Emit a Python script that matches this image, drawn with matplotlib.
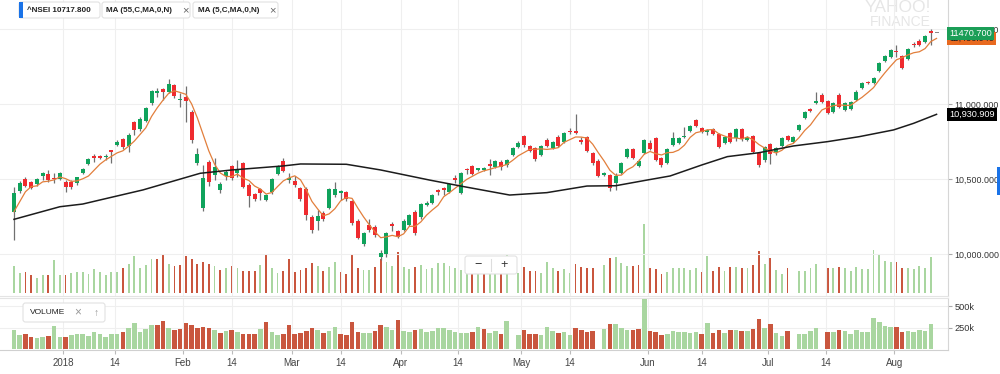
import numpy as np
import pandas as pd
import matplotlib
matplotlib.use("Agg")
import matplotlib.pyplot as plt
from matplotlib.patches import FancyBboxPatch, Rectangle
from matplotlib.transforms import blended_transform_factory

# ^NSEI daily candles (index 0 = first candle on the left)
opens = [
    10282, 10422, 10500, 10478, 10464, 10520, 10533, 10505, 10502, 10482,
    10482, 10475, 10538, 10598, 10649, 10653, 10647, 10691, 10727, 10767,
    10720, 10880, 10831, 10889, 11005, 11071, 11098, 11082, 11127, 11027,
    11049, 10949, 10604, 10305, 10611, 10527, 10427, 10522, 10587, 10538,
    10605, 10460, 10398, 10431, 10360, 10411, 10533, 10622, 10493, 10489,
    10438, 10433, 10245, 10222, 10275, 10309, 10393, 10405, 10411, 10353,
    10222, 10065, 10193, 10182, 9982, 10000, 10200, 10153, 10160, 10193,
    10282, 10245, 10327, 10338, 10427, 10438, 10415, 10509, 10409, 10567,
    10587, 10560, 10558, 10598, 10582, 10615, 10593, 10660, 10711, 10787,
    10720, 10705, 10660, 10760, 10705, 10782, 10749, 10820, 10820, 10760,
    10778, 10675, 10622, 10527, 10527, 10471, 10538, 10649, 10698, 10587,
    10675, 10742, 10771, 10638, 10609, 10727, 10742, 10778, 10820, 10893,
    10838, 10815, 10831, 10798, 10742, 10809, 10771, 10831, 10760, 10787,
    10671, 10627, 10731, 10682, 10720, 10787, 10749, 10827, 10905, 10965,
    11009, 11060, 11020, 10949, 11060, 10960, 10965, 11027, 11105, 11149,
    11138, 11222, 11289, 11311, 11356, 11320, 11298, 11400, 11422, 11415,
    11489, 11470.7,
]
highs = [
    10449, 10485, 10510, 10487, 10505, 10549, 10560, 10540, 10545, 10493,
    10490, 10515, 10575, 10638, 10667, 10660, 10667, 10693, 10760, 10775,
    10805, 10889, 10912, 10980, 11095, 11105, 11107, 11167, 11135, 11073,
    11120, 10960, 10705, 10593, 10627, 10638, 10482, 10560, 10595, 10627,
    10615, 10471, 10407, 10438, 10400, 10505, 10595, 10640, 10538, 10520,
    10445, 10449, 10260, 10293, 10285, 10440, 10482, 10427, 10420, 10360,
    10230, 10145, 10231, 10190, 10027, 10149, 10215, 10160, 10230, 10268,
    10293, 10340, 10355, 10400, 10433, 10445, 10475, 10527, 10545, 10573,
    10595, 10575, 10578, 10633, 10625, 10625, 10635, 10713, 10750, 10795,
    10727, 10713, 10727, 10775, 10755, 10790, 10815, 10838, 10933, 10780,
    10787, 10683, 10630, 10545, 10535, 10540, 10615, 10707, 10707, 10630,
    10767, 10760, 10778, 10645, 10705, 10815, 10782, 10849, 10860, 10900,
    10845, 10833, 10838, 10805, 10785, 10815, 10840, 10840, 10785, 10795,
    10680, 10722, 10738, 10715, 10780, 10795, 10785, 10867, 10955, 10975,
    11082, 11073, 11027, 11015, 11073, 11012, 11022, 11090, 11145, 11155,
    11178, 11282, 11327, 11367, 11393, 11327, 11372, 11410, 11430, 11460,
    11500, 11470.7,
]
lows = [
    10093, 10407, 10445, 10430, 10455, 10493, 10482, 10473, 10495, 10413,
    10430, 10460, 10533, 10593, 10615, 10630, 10627, 10605, 10720, 10700,
    10682, 10793, 10820, 10880, 10995, 11049, 11027, 11073, 11040, 10982,
    10882, 10738, 10593, 10289, 10453, 10493, 10409, 10493, 10495, 10515,
    10438, 10315, 10352, 10360, 10350, 10400, 10525, 10547, 10473, 10449,
    10355, 10227, 10140, 10160, 10220, 10300, 10382, 10360, 10355, 10195,
    10098, 10055, 10149, 10115, 9960, 9982, 10155, 10105, 10150, 10185,
    10127, 10235, 10320, 10330, 10395, 10390, 10405, 10475, 10400, 10530,
    10525, 10550, 10550, 10527, 10575, 10560, 10580, 10653, 10705, 10715,
    10680, 10620, 10653, 10715, 10700, 10715, 10740, 10800, 10800, 10735,
    10680, 10595, 10510, 10520, 10420, 10427, 10530, 10640, 10630, 10580,
    10667, 10690, 10618, 10580, 10600, 10720, 10735, 10770, 10813, 10845,
    10805, 10790, 10790, 10705, 10735, 10740, 10755, 10755, 10750, 10675,
    10580, 10610, 10600, 10660, 10710, 10750, 10740, 10820, 10900, 10945,
    11000, 11007, 10935, 10940, 10975, 10950, 10958, 11020, 11098, 11132,
    11130, 11215, 11282, 11305, 11315, 11235, 11290, 11380, 11385, 11405,
    11393, 11470.7,
]
closes = [
    10405, 10471, 10453, 10442, 10500, 10538, 10493, 10498, 10538, 10445,
    10445, 10511, 10567, 10631, 10642, 10642, 10655, 10682, 10749, 10711,
    10795, 10825, 10902, 10971, 11089, 11085, 11078, 11133, 11053, 11035,
    11022, 10760, 10667, 10505, 10482, 10582, 10465, 10549, 10505, 10558,
    10449, 10387, 10365, 10405, 10393, 10498, 10587, 10553, 10505, 10462,
    10365, 10260, 10160, 10253, 10233, 10431, 10431, 10422, 10365, 10205,
    10109, 10138, 10160, 10127, 10009, 10138, 10187, 10115, 10222, 10260,
    10138, 10333, 10342, 10393, 10415, 10427, 10467, 10493, 10538, 10560,
    10533, 10571, 10570, 10587, 10620, 10578, 10627, 10705, 10742, 10725,
    10687, 10631, 10720, 10722, 10749, 10722, 10809, 10811, 10809, 10745,
    10689, 10605, 10520, 10538, 10438, 10522, 10609, 10698, 10638, 10622,
    10760, 10698, 10627, 10593, 10698, 10771, 10775, 10789, 10853, 10853,
    10815, 10827, 10800, 10711, 10778, 10749, 10831, 10764, 10778, 10682,
    10593, 10715, 10667, 10709, 10771, 10760, 10778, 10860, 10949, 10955,
    11022, 11015, 10942, 11009, 10982, 11005, 11015, 11082, 11138, 11138,
    11171, 11275, 11320, 11360, 11347, 11242, 11365, 11393, 11393, 11453,
    11475, 11470.7,
]
# volume in thousands (0 = no value reported that day)
volume_k = [
    224, 166, 174, 147, 127, 147, 154, 274, 147, 147,
    166, 174, 174, 158, 197, 174, 147, 174, 174, 205,
    243, 305, 205, 232, 282, 282, 328, 243, 224, 235,
    305, 282, 243, 262, 243, 224, 193, 212, 224, 205,
    181, 181, 181, 232, 317, 205, 166, 181, 282, 174,
    193, 212, 251, 224, 185, 216, 262, 174, 162, 320,
    205, 193, 193, 216, 282, 255, 224, 340, 216, 197,
    220, 232, 197, 212, 247, 247, 224, 205, 193, 193,
    197, 255, 239, 185, 212, 181, 328, 0, 166, 220,
    181, 181, 166, 262, 212, 185, 197, 166, 243, 220,
    205, 212, 0, 235, 290, 297, 251, 228, 224, 232,
    579, 212, 197, 162, 178, 212, 205, 205, 193, 205,
    178, 309, 185, 220, 185, 220, 220, 212, 212, 235,
    347, 243, 290, 193, 158, 212, 0, 181, 181, 212,
    243, 0, 205, 205, 220, 212, 181, 220, 201, 197,
    359, 313, 270, 255, 262, 205, 212, 197, 224, 212,
    297, 0,
]
ma55_idx = [0, 8, 12, 15, 22.5, 32.5, 38, 47, 50, 58, 64, 72.5, 78.5, 86.5, 93,
            100, 105, 110.5, 114.5, 120, 124.5, 130, 136, 142, 147.5, 153.5, 157, 161]
ma55_val = [10231, 10315, 10333, 10360, 10427, 10538, 10560, 10587, 10600, 10598,
            10560, 10493, 10449, 10393, 10409, 10453, 10455, 10493, 10520, 10593,
            10649, 10675, 10720, 10749, 10782, 10827, 10871, 10930.909]
# 5-day MA for the first four candles (history before the window)
ma5_head = [10282, 10349, 10415, 10449]

tick_pos = [8.55, 17.6, 29.5, 38.0, 48.5, 57.1, 67.5, 77.5, 88.5, 97.0,
            110.6, 120.1, 131.6, 141.7, 153.6]
tick_labels = ["2018", "14", "Feb", "14", "Mar", "14", "Apr", "14", "May", "14",
               "Jun", "14", "Jul", "14", "Aug"]
price_ticks = [10000, 10500, 11000, 11500]
vol_ticks = [250, 500]

GREEN = "#10a35c"
RED = "#ef2b2f"
VGREEN = "#a9d6a0"
VRED = "#c9563e"
GRID = "#efefef"
TXT = "#333333"

plt.rcParams['font.family'] = ['Liberation Sans', 'DejaVu Sans']

W, H = 1000, 374


def px_rect(x0, y0, x1, y1):
    # rectangle given in pixels from the top-left corner -> figure fraction
    return [x0 / W, 1 - y1 / H, (x1 - x0) / W, (y1 - y0) / H]


o = np.array(opens, float)
h = np.array(highs, float)
l = np.array(lows, float)
c = np.array(closes, float)
v = np.array(volume_k, float)
n = len(c)
x = np.arange(n)

ma5 = pd.Series(c).rolling(5).mean().to_numpy()
ma5[:4] = ma5_head

candle_col = np.where(c > o, GREEN, np.where(c < o, RED, "#8a8a8a"))
prev_c = np.r_[o[0], c[:-1]]
vol_col = np.where(c >= prev_c, VGREEN, VRED)

xlim = (-2.44, 163.0)

fig = plt.figure(figsize=(10, 3.74), dpi=100)

# thin volume bars at the foot of the price panel
ax_ov = fig.add_axes(px_rect(0, 0, 948, 296))
ax_ov.bar(x, v, width=0.32, color=vol_col, linewidth=0)
ax_ov.set_xlim(*xlim)
ax_ov.set_ylim(-25, 2441)
ax_ov.axis('off')

# price panel
ax = fig.add_axes(px_rect(0, 0, 948, 296))
ax.patch.set_visible(False)
ax.vlines(x, l, h, color="#707070", lw=0.9, zorder=3)
body_lo = np.minimum(o, c)
body_h = np.maximum(np.abs(c - o), 8)
ax.bar(x, body_h, bottom=body_lo, width=0.7, color=candle_col, linewidth=0, zorder=4)
ax.plot(x, ma5, color="#e27f3c", lw=0.9, zorder=5)
ax.plot(ma55_idx, ma55_val, color="#1c1c1c", lw=1.1, zorder=5)
ax.set_xlim(*xlim)
ax.set_ylim(9720, 11693)
ax.yaxis.tick_right()
ax.set_yticks(price_ticks)
ax.set_yticklabels([f"{p:,.3f}" for p in price_ticks])
ax.set_xticks(tick_pos)
ax.tick_params(axis='x', length=0, labelbottom=False)
ax.tick_params(axis='y', length=3, color="#aaaaaa", labelsize=6.4, labelcolor=TXT, pad=1.5)
ax.grid(True, color=GRID, lw=0.8)
ax.set_axisbelow(True)
for s in ['top', 'left']:
    ax.spines[s].set_visible(False)
ax.spines['right'].set_color("#d6d6d6")
ax.spines['bottom'].set_color("#e4e4e4")

ax.text(0.898, 1 - 8 / H, "YAHOO!", transform=fig.transFigure, ha='center', va='center',
        fontsize=12.5, color="#e6e6e6", zorder=0)
ax.text(0.900, 1 - 22 / H, "FINANCE", transform=fig.transFigure, ha='center', va='center',
        fontsize=10, color="#e6e6e6", zorder=0)

# last-value flags on the price axis
trans = blended_transform_factory(ax.transAxes, ax.transData)
ax.text(1.0 + 1 / 948, ma5[-1], f"{ma5[-1]:,.3f}", transform=trans, ha='left', va='center',
        fontsize=6.6, color="#222222", clip_on=False, zorder=10,
        bbox=dict(boxstyle='square,pad=0.22', fc="#e8691f", ec='none'))
ax.text(1.0 + 1 / 948, c[-1], f"{c[-1]:.3f}", transform=trans, ha='left', va='center',
        fontsize=6.6, color="white", clip_on=False, zorder=11,
        bbox=dict(boxstyle='square,pad=0.22', fc="#1b9e57", ec='none'))
ax.text(1.0 + 1 / 948, ma55_val[-1], f"{ma55_val[-1]:,.3f}", transform=trans, ha='left',
        va='center', fontsize=6.6, color="white", clip_on=False, zorder=11,
        bbox=dict(boxstyle='square,pad=0.22', fc="black", ec='none'))

# volume panel
axv = fig.add_axes(px_rect(0, 298, 948, 350))
axv.bar(x, v, width=0.8, color=vol_col, linewidth=0, zorder=3)
axv.set_xlim(*xlim)
axv.set_ylim(-8, 594)
axv.yaxis.tick_right()
axv.set_yticks(vol_ticks)
axv.set_yticklabels([f"{t}k" for t in vol_ticks])
axv.set_xticks(tick_pos)
axv.set_xticklabels(tick_labels)
axv.tick_params(axis='x', length=3, color="#bbbbbb", labelsize=7, labelcolor="#444444", pad=3)
axv.tick_params(axis='y', length=3, color="#aaaaaa", labelsize=6.6, labelcolor=TXT, pad=2)
axv.grid(True, color=GRID, lw=0.8)
axv.set_axisbelow(True)
axv.spines['left'].set_visible(False)
axv.spines['top'].set_color("#e4e4e4")
axv.spines['right'].set_color("#d6d6d6")
axv.spines['bottom'].set_color("#d0d0d0")

# chart furniture: study chips, zoom control, side tabs
ui = fig.add_axes([0, 0, 1, 1])
ui.set_xlim(0, W)
ui.set_ylim(H, 0)
ui.axis('off')
ui.set_zorder(20)
ui.patch.set_visible(False)


def chip(x0, y0, x1, y1):
    ui.add_patch(FancyBboxPatch((x0, y0), x1 - x0, y1 - y0,
                                boxstyle='round,pad=0,rounding_size=2.5',
                                fc='white', ec="#e2e2e2", lw=0.8))


chip(19, 2, 100, 18)
ui.add_patch(Rectangle((19, 2), 3.5, 16, fc="#1a73e8", ec='none'))
ui.text(27, 10.5, "^NSEI 10717.800", fontsize=5.8, fontweight='bold', color="#222222", va='center')
chip(102, 2, 190, 18)
ui.text(106, 10.5, "MA (55,C,MA,0,N)", fontsize=5.8, fontweight='bold', color="#222222", va='center')
ui.text(185, 10.5, "×", fontsize=8, color="#666666", va='center', ha='center')
chip(193, 2, 278, 18)
ui.text(198, 10.5, "MA (5,C,MA,0,N)", fontsize=5.8, fontweight='bold', color="#222222", va='center')
ui.text(272, 10.5, "×", fontsize=8, color="#666666", va='center', ha='center')

chip(465, 256, 517, 274)
ui.text(478, 265, "−", fontsize=9, color="#333333", va='center', ha='center')
ui.plot([491, 491], [259, 271], color="#dddddd", lw=0.8)
ui.text(504, 265, "+", fontsize=9, color="#333333", va='center', ha='center')

chip(23, 303, 105, 322)
ui.text(30, 312.5, "VOLUME", fontsize=6, color="#222222", va='center')
ui.text(78, 312.5, "×", fontsize=8.5, color="#999999", va='center', ha='center')
ui.text(96, 312.5, "↑", fontsize=7.5, color="#999999", va='center', ha='center')

ui.add_patch(Rectangle((996.5, 167), 3.5, 28, fc="#1a73e8", ec='none'))

fig.savefig("out.png", dpi=100, facecolor='white')
